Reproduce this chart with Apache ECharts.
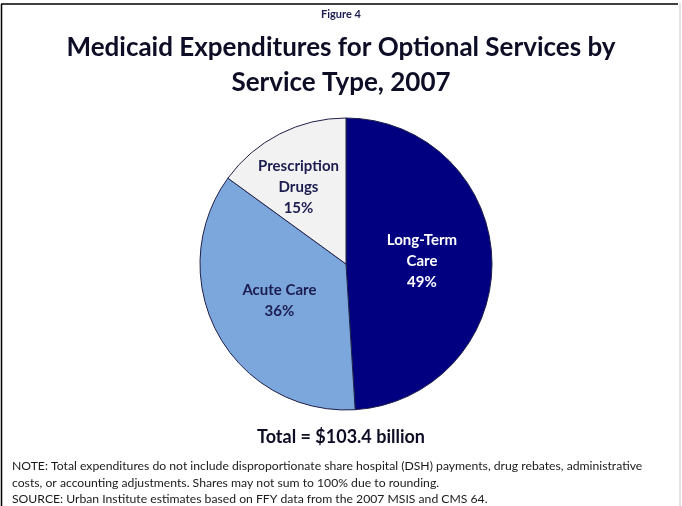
<!DOCTYPE html>
<html>
<head>
<meta charset="utf-8">
<script src="https://cdn.jsdelivr.net/npm/echarts@6/dist/echarts.min.js"></script>
<style>
  html, body { margin: 0; padding: 0; background: #fff; }
  #main { width: 682px; height: 506px; }
</style>
</head>
<body>
<div id="main"></div>
<script>
  var categories = ['Long-Term\nCare', 'Acute Care', 'Prescription\nDrugs'];
  var shares = [49, 36, 15];
  var sliceColors = ['#000080', '#7ba7dc', '#f2f2f2'];
  var labelColors = ['#ffffff', '#1c1c50', '#1c1c50'];
  var labelOffsets = [[0, 0], [0, 0], [-13, -9]];

  var noteLines = [
    'NOTE: Total expenditures do not include disproportionate share hospital (DSH) payments, drug rebates, administrative',
    'costs, or accounting adjustments. Shares may not sum to 100% due to rounding.',
    'SOURCE: Urban Institute estimates based on FFY data from the 2007 MSIS and CMS 64.'
  ];

  var font = 'Lato, "Open Sans", sans-serif';

  var pieData = categories.map(function (name, i) {
    return {
      name: name,
      value: shares[i],
      itemStyle: { color: sliceColors[i] },
      label: { color: labelColors[i], offset: labelOffsets[i] }
    };
  });

  var myChart = echarts.init(document.getElementById('main'));
  var option = {
    backgroundColor: '#fff',
    animation: false,
    title: [
      {
        text: 'Figure 4',
        left: 'center', top: 9, padding: 0,
        textStyle: { fontFamily: font, fontSize: 11, fontWeight: 'bold', color: '#1c1c50' }
      },
      {
        text: 'Medicaid Expenditures for Optional Services by\nService Type, 2007',
        left: 'center', top: 30, padding: 0,
        textStyle: { fontFamily: font, fontSize: 26, fontWeight: 'bold', color: '#0d0d26', lineHeight: 35 }
      },
      {
        text: 'Total = $103.4 billion',
        left: 'center', top: 428, padding: 0,
        textStyle: { fontFamily: font, fontSize: 18, fontWeight: 'bold', color: '#0d0d26' }
      },
      {
        text: noteLines.join('\n'),
        left: 12, top: 458, padding: 0,
        textStyle: { fontFamily: font, fontSize: 12.2, fontWeight: 'normal', color: '#1a1a1a', lineHeight: 16.5 }
      }
    ],
    graphic: [
      { type: 'line', shape: { x1: 1, y1: 4, x2: 678, y2: 4 }, style: { stroke: '#000', lineWidth: 1.5 } },
      { type: 'line', shape: { x1: 1.5, y1: 4, x2: 1.5, y2: 506 }, style: { stroke: '#000', lineWidth: 1.5 } },
      { type: 'line', shape: { x1: 680, y1: 3, x2: 680, y2: 506 }, style: { stroke: '#c8c8c8', lineWidth: 1 } }
    ],
    series: [{
      type: 'pie',
      center: [346, 264],
      radius: [0, 146],
      startAngle: 90,
      clockwise: true,
      data: pieData,
      itemStyle: { borderColor: '#20204a', borderWidth: 1 },
      label: {
        show: true,
        position: 'inner',
        formatter: '{b}\n{c}%',
        fontFamily: font,
        fontSize: 15,
        fontWeight: 'bold',
        lineHeight: 21
      },
      labelLine: { show: false },
      emphasis: { disabled: true }
    }]
  };
  myChart.setOption(option);
</script>
</body>
</html>
